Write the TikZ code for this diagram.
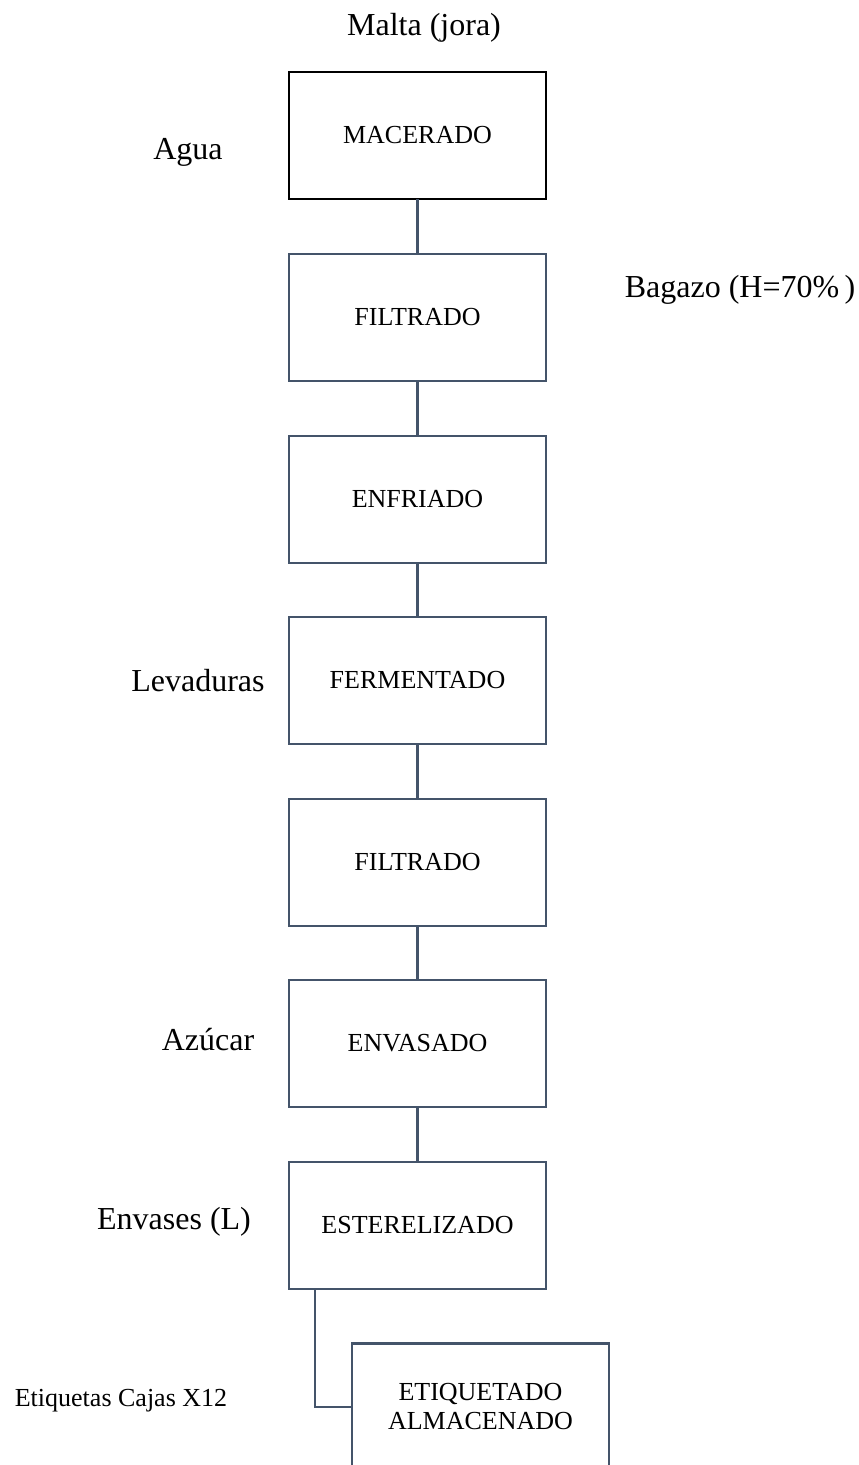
\documentclass[tikz,border=0pt]{standalone}
\usepackage{fontspec}
\setmainfont{Liberation Serif}
\definecolor{slate}{HTML}{44546A}
\begin{document}
\begin{tikzpicture}[x=1pt,y=-1pt,
  stage/.style={draw=slate, line width=2.2pt, minimum width=257pt, minimum height=127pt,
    inner sep=0pt, outer sep=0pt, align=center, font=\fontsize{26}{29}\selectfont},
  firststage/.style={stage, draw=black, line width=2.6pt},
  flowlabel/.style={font=\fontsize{32}{36}\selectfont, inner sep=0pt},
  smalllabel/.style={font=\fontsize{26}{30}\selectfont, inner sep=0pt},
  link/.style={draw=slate, line width=2.2pt}]
\useasboundingbox (0,0) rectangle (859,1465);
\clip (0,0) rectangle (859,1465);

% process stages
\node[firststage] (mac) at (417.5,135.5) {MACERADO};
\node[stage] (fil1) at (417.5,317.5) {FILTRADO};
\node[stage] (enf) at (417.5,499.5) {ENFRIADO};
\node[stage] (fer) at (417.5,680.5) {FERMENTADO};
\node[stage] (fil2) at (417.5,862.5) {FILTRADO};
\node[stage] (env) at (417.5,1043.5) {ENVASADO};
\node[stage] (est) at (417.5,1225.5) {ESTERELIZADO};
\node[stage] (etq) at (480.5,1407) {ETIQUETADO\\ALMACENADO};

% inputs and outputs
\node[flowlabel] (malta) at (424,28) {Malta (jora)};
\node[flowlabel] (agua) at (188,152) {Agua};
\node[flowlabel] (bagazo) at (740,290) {Bagazo (H=70\%\,)};
\node[flowlabel] (lev) at (198,681) {Levaduras};
\node[flowlabel] (azu) at (208,1040) {Azúcar};
\node[flowlabel] (envs) at (174,1222) {Envases (L)};
\node[smalllabel] (etiq) at (121,1401) {Etiquetas Cajas X12};

% connectors between stages
\draw[link] (mac) -- (fil1);
\draw[link] (fil1) -- (enf);
\draw[link] (enf) -- (fer);
\draw[link] (fer) -- (fil2);
\draw[link] (fil2) -- (env);
\draw[link] (env) -- (est);
\draw[link] ([xshift=26pt]est.south west) |- (etq.west);
\end{tikzpicture}
\end{document}
